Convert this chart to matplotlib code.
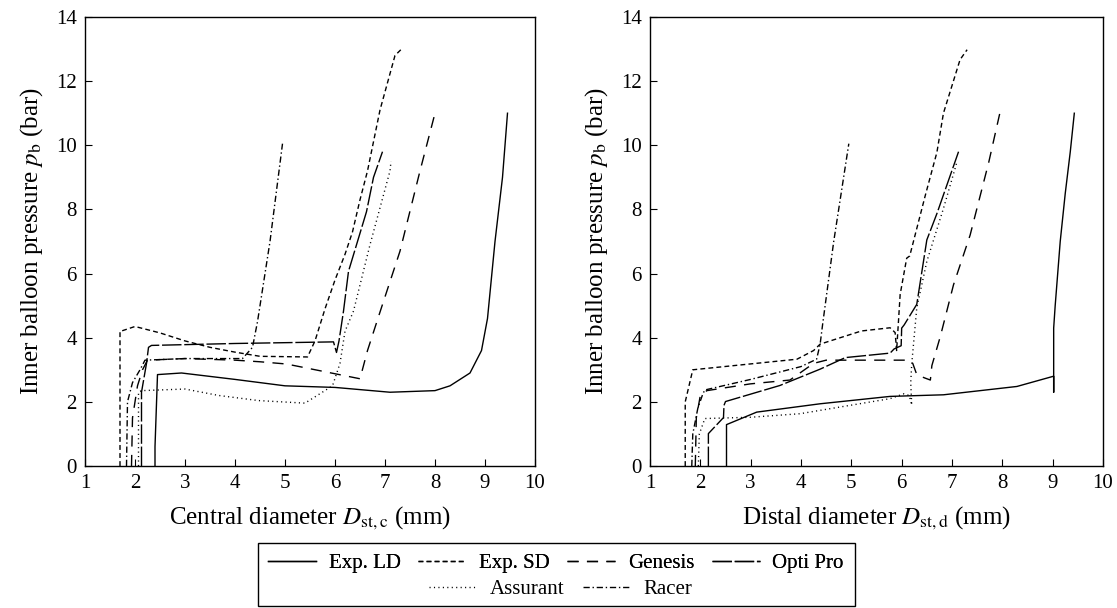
import matplotlib
matplotlib.use("Agg")
import matplotlib.pyplot as plt
from matplotlib.lines import Line2D
from matplotlib.patches import Rectangle

plt.rcParams['font.family'] = ['Liberation Serif', 'DejaVu Serif']
plt.rcParams['mathtext.fontset'] = 'stix'

# ---------------- data: central diameter (left panel) ----------------
c_ld_x = [2.4, 2.4, 2.45, 2.93, 4.0, 5.0, 6.0, 7.1, 8.0, 8.3, 8.7, 8.93, 9.05, 9.2, 9.35, 9.45]
c_ld_y = [0.0, 0.6, 2.85, 2.9, 2.7, 2.5, 2.45, 2.3, 2.35, 2.5, 2.9, 3.6, 4.6, 7.0, 9.0, 11.0]

c_sd_x = [1.7, 1.7, 1.75, 2.0, 2.5, 3.0, 3.5, 4.0, 4.5, 5.45, 5.6, 5.8, 6.0, 6.2, 6.35, 6.5, 6.65, 6.9, 7.2, 7.33]
c_sd_y = [0.0, 4.2, 4.22, 4.35, 4.15, 3.9, 3.7, 3.55, 3.42, 3.4, 3.9, 4.9, 5.8, 6.6, 7.3, 8.3, 9.2, 11.1, 12.8, 13.0]

c_gen_x = [1.93, 1.95, 2.05, 2.15, 2.25, 3.0, 4.0, 4.5, 5.03, 6.5, 6.65, 6.9, 7.3, 7.7, 8.0]
c_gen_y = [0.0, 1.5, 2.5, 3.0, 3.3, 3.35, 3.3, 3.25, 3.18, 2.72, 3.6, 4.8, 6.7, 9.2, 11.0]

c_opt_x = [2.13, 2.13, 2.23, 2.27, 2.33, 4.0, 5.97, 6.03, 6.08, 6.17, 6.27, 6.63, 6.77, 6.95]
c_opt_y = [0.0, 2.3, 3.2, 3.7, 3.76, 3.82, 3.87, 3.54, 3.9, 4.83, 6.07, 7.93, 9.0, 9.8]

c_ass_x = [2.07, 2.07, 2.13, 3.0, 3.67, 4.47, 5.4, 5.95, 6.1, 6.2, 6.37, 6.7, 7.1, 7.12]
c_ass_y = [0.0, 2.3, 2.35, 2.4, 2.2, 2.04, 1.96, 2.5, 3.2, 4.2, 4.83, 6.9, 9.2, 9.5]

c_rac_x = [1.83, 1.85, 1.95, 2.1, 2.2, 3.0, 4.15, 4.35, 4.45, 4.7, 4.95]
c_rac_y = [0.0, 2.0, 2.6, 3.0, 3.3, 3.35, 3.35, 3.7, 4.5, 7.0, 10.05]

# ---------------- data: distal diameter (right panel) ----------------
d_ld_x = [2.52, 2.52, 3.12, 4.38, 5.77, 6.83, 8.29, 9.02, 9.02, 9.02, 9.05, 9.15, 9.25, 9.35, 9.43]
d_ld_y = [0.0, 1.29, 1.68, 1.94, 2.17, 2.22, 2.48, 2.8, 2.3, 4.3, 5.0, 7.0, 8.5, 9.8, 11.0]

d_sd_x = [1.7, 1.7, 1.85, 3.92, 4.25, 4.38, 5.2, 5.77, 5.87, 5.9, 5.97, 6.1, 6.16, 6.47, 6.7, 6.83, 7.16, 7.3]
d_sd_y = [0.0, 2.0, 3.0, 3.33, 3.6, 3.8, 4.21, 4.31, 4.16, 3.6, 5.35, 6.48, 6.55, 8.44, 9.78, 11.0, 12.67, 12.98]

d_gen_x = [1.9, 1.92, 2.0, 2.13, 2.99, 3.78, 4.25, 4.5, 6.15, 6.22, 6.3, 6.45, 6.57, 6.6, 6.77, 7.03, 7.36, 7.73, 7.96]
d_gen_y = [0.0, 1.5, 2.2, 2.35, 2.56, 2.68, 3.2, 3.3, 3.3, 3.2, 2.85, 2.75, 2.68, 3.13, 4.05, 5.65, 7.2, 9.47, 11.07]

d_opt_x = [2.16, 2.16, 2.46, 2.47, 2.5, 3.58, 4.38, 4.88, 5.77, 5.85, 5.99, 6.0, 6.05, 6.3, 6.5, 6.7, 7.13]
d_opt_y = [0.0, 1.01, 1.51, 1.89, 2.01, 2.51, 3.02, 3.38, 3.52, 3.65, 3.75, 4.3, 4.4, 5.04, 7.05, 7.87, 9.8]

d_ass_x = [1.96, 1.98, 2.09, 3.0, 3.98, 5.77, 6.04, 6.15, 6.2, 6.18, 6.2, 6.3, 6.5, 6.83, 7.06, 7.1]
d_ass_y = [0.0, 1.0, 1.48, 1.52, 1.63, 2.1, 2.25, 2.2, 1.9, 2.6, 3.18, 4.93, 6.38, 8.03, 9.27, 9.5]

d_rac_x = [1.83, 1.85, 1.95, 2.05, 2.09, 3.0, 4.0, 4.31, 4.38, 4.43, 4.65, 4.95]
d_rac_y = [0.0, 1.0, 1.8, 2.25, 2.37, 2.7, 3.1, 3.33, 3.8, 4.42, 7.0, 10.05]

series_names = ["Exp. LD", "Exp. SD", "Genesis", "Opti Pro", "Assurant", "Racer"]
x_ticks = [1, 2, 3, 4, 5, 6, 7, 8, 9, 10]
y_ticks = [0, 2, 4, 6, 8, 10, 12, 14]

styles = {
    "Exp. LD": dict(linestyle='-'),
    "Exp. SD": dict(linestyle=(0, (3.5, 2.3))),
    "Genesis": dict(linestyle=(0, (8.0, 6.0))),
    "Opti Pro": dict(linestyle=(0, (14.0, 2.0))),
    "Assurant": dict(linestyle=(0, (0.8, 2.4))),
    "Racer": dict(linestyle=(0, (4.5, 2.0, 1.0, 2.0))),
}

central = [(c_ld_x, c_ld_y), (c_sd_x, c_sd_y), (c_gen_x, c_gen_y),
           (c_opt_x, c_opt_y), (c_ass_x, c_ass_y), (c_rac_x, c_rac_y)]
distal = [(d_ld_x, d_ld_y), (d_sd_x, d_sd_y), (d_gen_x, d_gen_y),
          (d_opt_x, d_opt_y), (d_ass_x, d_ass_y), (d_rac_x, d_rac_y)]

W, H = 1117, 608
fig = plt.figure(figsize=(W / 100, H / 100), dpi=100)
ax1 = fig.add_axes([85 / W, 1 - 466 / H, 450 / W, 449 / H])
ax2 = fig.add_axes([650 / W, 1 - 466 / H, 453 / W, 449 / H])

for ax, data, xlabel in [(ax1, central, r"Central diameter $D_{\mathrm{st,c}}$ (mm)"),
                         (ax2, distal, r"Distal diameter $D_{\mathrm{st,d}}$ (mm)")]:
    for name, (xs, ys) in zip(series_names, data):
        ax.plot(xs, ys, color='black', lw=1.0, **styles[name])
    ax.set_xlim(1, 10)
    ax.set_ylim(0, 14)
    ax.set_xticks(x_ticks)
    ax.set_yticks(y_ticks)
    ax.tick_params(direction='in', length=5, width=0.8, labelsize=15, pad=6)
    for s in ax.spines.values():
        s.set_linewidth(1.0)
    ax.set_xlabel(xlabel, fontsize=18, labelpad=8)
    ax.set_ylabel(r"Inner balloon pressure $p_{\mathrm{b}}$ (bar)", fontsize=18, labelpad=8)

handles = [Line2D([], [], color='black', lw=1.0, **styles[n]) for n in series_names]

leg1 = fig.legend(handles[:4], series_names[:4], loc='center',
                  bbox_to_anchor=(556 / W, 1 - 563 / H), ncol=4, frameon=False,
                  fontsize=15, handlelength=2.3, columnspacing=0.85, handletextpad=0.6,
                  borderaxespad=0)
fig.add_artist(leg1)
leg2 = fig.legend(handles[4:], series_names[4:], loc='center',
                  bbox_to_anchor=(561 / W, 1 - 589 / H), ncol=2, frameon=False,
                  fontsize=15, handlelength=2.3, columnspacing=0.9, handletextpad=0.6,
                  borderaxespad=0)
fig.add_artist(Rectangle((258 / W, 1 - 606 / H), (855 - 258) / W, (606 - 543) / H,
                         transform=fig.transFigure, fill=False, lw=1.0, ec='black'))

fig.savefig("out.png", dpi=100)
